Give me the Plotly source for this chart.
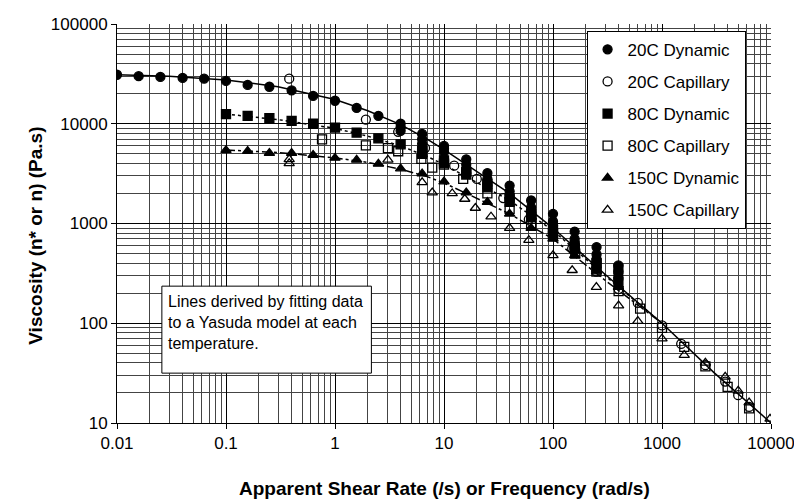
import plotly.graph_objects as go

# ---------------- data ----------------
d20_x = [0.01, 0.0158, 0.025, 0.04, 0.063, 0.1, 0.158, 0.25, 0.4, 0.63, 1, 1.58, 2.5,
         4, 4, 4, 6.3, 6.3, 6.3, 10, 10, 10, 16, 16, 16, 16, 25, 25, 25, 25,
         40, 40, 40, 40, 63, 63, 63, 63, 100, 100, 100, 100, 158, 158, 158, 158,
         251, 251, 251, 251, 398, 398, 398, 398]
d20_y = [31000, 30000, 29500, 28800, 28300, 26900, 24500, 23500, 21600, 19000, 17000, 14400, 12000,
         10000, 9200, 8500, 7900, 7000, 6300, 6000, 5600, 5200, 4400, 3900, 3500, 3200,
         3200, 2800, 2600, 2400, 2400, 2100, 1900, 1750, 1700, 1450, 1300, 1200,
         1250, 1050, 950, 870, 830, 700, 620, 570, 580, 490, 440, 420, 380, 330, 300, 280]

c20_x = [0.38, 1.92, 3.8, 6.7, 12.4, 20, 35, 60, 100, 150, 250, 400, 600, 1000, 1500, 2500, 3800, 5000, 6300]
c20_y = [28300, 11000, 8300, 5700, 3800, 2800, 1800, 1100, 800, 560, 330, 220, 160, 95, 62, 38, 26, 19, 14.5]

d80_x = [0.1, 0.158, 0.25, 0.4, 0.63, 1, 1.58, 2.5, 4, 6.3, 6.3, 10, 10, 16, 16, 25, 25,
         40, 40, 63, 63, 100, 100, 158, 158, 251, 251, 398, 398]
d80_y = [12500, 12000, 11400, 10700, 10000, 9150, 8150, 7130, 6220, 5300, 5000, 4300, 4000,
         3300, 3100, 2500, 2300, 1800, 1650, 1250, 1150, 870, 800, 600, 560, 400, 370, 350, 260]

c80_x = [0.76, 1.92, 3.06, 3.8, 6.2, 7.8, 10, 15, 25, 40, 63, 100, 160, 250, 400, 630, 1000, 1600, 2500, 4000, 6300]
c80_y = [6970, 6080, 5690, 5300, 4450, 3640, 3900, 2800, 2000, 1400, 1000, 750, 500, 330, 210, 140, 90, 58, 37, 23, 14]

d150_x = [0.1, 0.158, 0.25, 0.4, 0.63, 1, 1.58, 2.5, 4, 6.3, 10, 16, 25, 40, 63, 100, 158, 251, 398]
d150_y = [5430, 5310, 5080, 5080, 4860, 4540, 4340, 3960, 3550, 3160, 2630, 2040, 1640, 1250, 900, 700, 480, 330, 230]

c150_x = [0.38, 0.38, 3.06, 6.3, 7.8, 11.9, 15.5, 19.4, 27, 40, 60, 100, 150, 250, 400, 600, 1000, 1600, 2500, 3800, 5000, 6300, 9800]
c150_y = [4400, 4000, 4340, 2580, 2040, 2000, 1760, 1430, 1170, 900, 680, 480, 340, 230, 150, 105, 70, 48, 40, 29, 21, 16, 11]

# fitted Yasuda curves
f20_x = [0.01, 0.03, 0.1, 0.3, 1, 2, 4, 7, 10, 20, 40, 100, 300, 1000, 3000, 10000]
f20_y = [31000, 30000, 27500, 23500, 17500, 13500, 9800, 7000, 5500, 3300, 2000, 900, 310, 100, 32, 10]
f80_x = [0.1, 0.3, 1, 2, 4, 7, 10, 20, 40, 100, 300, 1000]
f80_y = [12500, 11000, 9000, 7500, 6000, 4700, 3900, 2600, 1700, 850, 300, 100]
f150_x = [0.1, 0.3, 1, 2, 4, 7, 10, 20, 40, 100, 300, 1000]
f150_y = [5450, 5150, 4550, 4100, 3500, 2950, 2550, 1800, 1250, 700, 270, 100]

x_ticks = [0.01, 0.1, 1, 10, 100, 1000, 10000]
x_tick_text = ["0.01", "0.1", "1", "10", "100", "1000", "10000"]
y_ticks = [10, 100, 1000, 10000, 100000]
y_tick_text = ["10", "100", "1000", "10000", "100000"]

FONT = "Arial, Liberation Sans, Helvetica, sans-serif"

fig = go.Figure()

for fx, fy, dash in [(f20_x, f20_y, "solid"), (f80_x, f80_y, "dot"), (f150_x, f150_y, "dashdot")]:
    fig.add_trace(go.Scatter(x=fx, y=fy, mode="lines", showlegend=False, hoverinfo="skip",
                             line=dict(color="black", width=1.5, dash=dash)))

series = [
    ("20C Dynamic", d20_x, d20_y, "circle"),
    ("20C Capillary", c20_x, c20_y, "circle-open"),
    ("80C Dynamic", d80_x, d80_y, "square"),
    ("80C Capillary", c80_x, c80_y, "square-open"),
    ("150C Dynamic", d150_x, d150_y, "triangle-up"),
    ("150C Capillary", c150_x, c150_y, "triangle-up-open"),
]
for name, sx, sy, sym in series:
    fig.add_trace(go.Scatter(x=sx, y=sy, mode="markers", name=name, legendgroup=name,
                             marker=dict(symbol=sym, size=9, color="black",
                                         line=dict(color="black", width=1.3))))

axis_common = dict(type="log", showline=True, linecolor="black", linewidth=1,
                   ticks="outside", ticklen=5, tickcolor="black",
                   showgrid=True, gridcolor="black", gridwidth=1,
                   minor=dict(showgrid=True, dtick="D1", gridcolor="#444", gridwidth=1, ticks=""),
                   tickfont=dict(family=FONT, size=17, color="black"),
                   ticklabeloverflow="allow",
                   zeroline=False, mirror=False)

fig.update_xaxes(range=[-2, 4], tickvals=x_ticks, ticktext=x_tick_text, **axis_common)
fig.update_yaxes(range=[1, 5], tickvals=y_ticks, ticktext=y_tick_text, **axis_common)

# the page body adds an 8 px margin, so the figure is 8 px smaller each way
fig.update_layout(
    width=794, height=493,
    margin=dict(l=109, r=29, t=7, b=78),
    paper_bgcolor="white", plot_bgcolor="white",
    font=dict(family=FONT, color="black"),
    legend=dict(x=0.718, y=0.983, xanchor="left", yanchor="top",
                bgcolor="white", bordercolor="black", borderwidth=1,
                font=dict(family=FONT, size=17, color="black"),
                tracegroupgap=7, itemwidth=30),
    shapes=[
        dict(type="rect", xref="paper", yref="paper", x0=0.0686, x1=0.389, y0=0.125, y1=0.343,
             fillcolor="white", line=dict(color="black", width=1), layer="above"),
    ],
    annotations=[
        dict(text="Apparent Shear Rate (/s) or Frequency (rad/s)", xref="paper", yref="paper",
             x=0.5, y=-0.163, xanchor="center", yanchor="middle", showarrow=False,
             font=dict(family=FONT, size=19, color="black", weight="bold")),
        dict(text="Viscosity (n* or n) (Pa.s)", xref="paper", yref="paper",
             x=-0.125, y=0.47, xanchor="center", yanchor="middle", textangle=-90, showarrow=False,
             font=dict(family=FONT, size=19, color="black", weight="bold")),
        dict(text="Lines derived by fitting data<br>to a Yasuda model at each<br>temperature.",
             xref="paper", yref="paper", x=0.0747, y=0.2525, xanchor="left", yanchor="middle",
             align="left", showarrow=False, font=dict(family=FONT, size=16, color="black")),
    ],
)

fig.write_html("out.html")
